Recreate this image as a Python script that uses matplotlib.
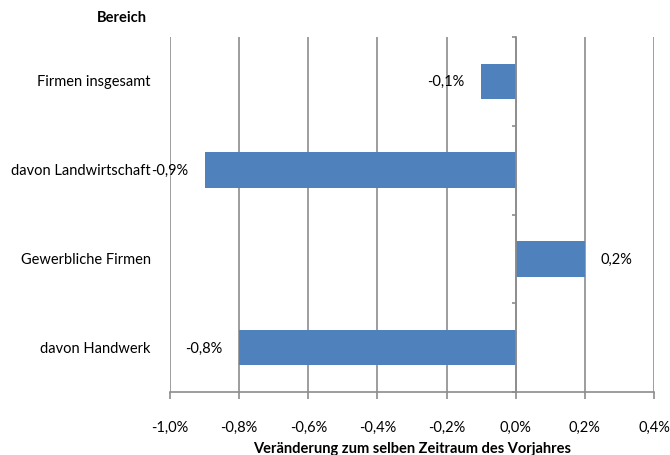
import numpy as np
import matplotlib
matplotlib.use("Agg")
import matplotlib.pyplot as plt
from matplotlib.ticker import FixedLocator, FuncFormatter

plt.rcParams['font.family'] = ['Lato', 'DejaVu Sans']

# Daten
bereiche = ["Firmen insgesamt", "davon Landwirtschaft", "Gewerbliche Firmen", "davon Handwerk"]
werte = [-0.1, -0.9, 0.2, -0.8]
x_ticks = [-1.0, -0.8, -0.6, -0.4, -0.2, 0.0, 0.2, 0.4]

bar_color = "#4F81BD"
grid_color = "#8C8C8C"
fs = 10.5


def pct(v, pos=None):
    return ("%.1f%%" % v).replace(".", ",")


fig = plt.figure(figsize=(6.7, 4.56), dpi=100)
ax = fig.add_axes([170 / 670, 1 - 393 / 456, 484 / 670, 355 / 456])

y = np.arange(len(bereiche))
ax.barh(y, werte, height=0.4, color=bar_color, zorder=3)

ax.set_xlim(x_ticks[0], x_ticks[-1])
ax.set_ylim(len(bereiche) - 0.5, -0.5)

# vertikale Gitterlinien
ax.xaxis.set_major_locator(FixedLocator(x_ticks))
ax.xaxis.set_major_formatter(FuncFormatter(pct))
ax.grid(axis="x", color=grid_color, linewidth=1.2, zorder=0)
ax.tick_params(axis="x", direction="out", length=5, width=1.2, color=grid_color,
               pad=15, labelsize=fs, labelcolor="black")

# Kategorienachse bei 0
for s in ["top", "right"]:
    ax.spines[s].set_visible(False)
ax.spines["bottom"].set_color(grid_color)
ax.spines["bottom"].set_linewidth(1.2)
ax.spines["left"].set_position(("data", 0))
ax.spines["left"].set_color(grid_color)
ax.spines["left"].set_linewidth(1.2)
ax.spines["left"].set_zorder(4)
ax.set_yticks(y)
ax.set_yticklabels([])
ax.tick_params(axis="y", which="major", length=0)
ax.yaxis.set_minor_locator(FixedLocator(np.arange(len(bereiche) + 1) - 0.5))
ax.tick_params(axis="y", which="minor", direction="out", length=3, width=1.2, color=grid_color)

for yi, name in zip(y, bereiche):
    ax.annotate(name, xy=(0, yi), xycoords=ax.get_yaxis_transform(),
                xytext=(-14, 0), textcoords="offset points",
                ha="right", va="center", fontsize=fs)

for yi, v in zip(y, werte):
    off = 11 if v > 0 else -12
    ax.annotate(pct(v), xy=(v, yi), xytext=(off, 0), textcoords="offset points",
                ha="left" if v > 0 else "right", va="center", fontsize=fs, zorder=5)

ax.set_xlabel("Veränderung zum selben Zeitraum des Vorjahres", fontsize=fs,
              fontweight="bold", labelpad=5)
fig.text(147 / 670, 1 - 18 / 456, "Bereich", ha="right", va="center",
         fontsize=fs, fontweight="bold")

fig.savefig("out.png", dpi=100)
